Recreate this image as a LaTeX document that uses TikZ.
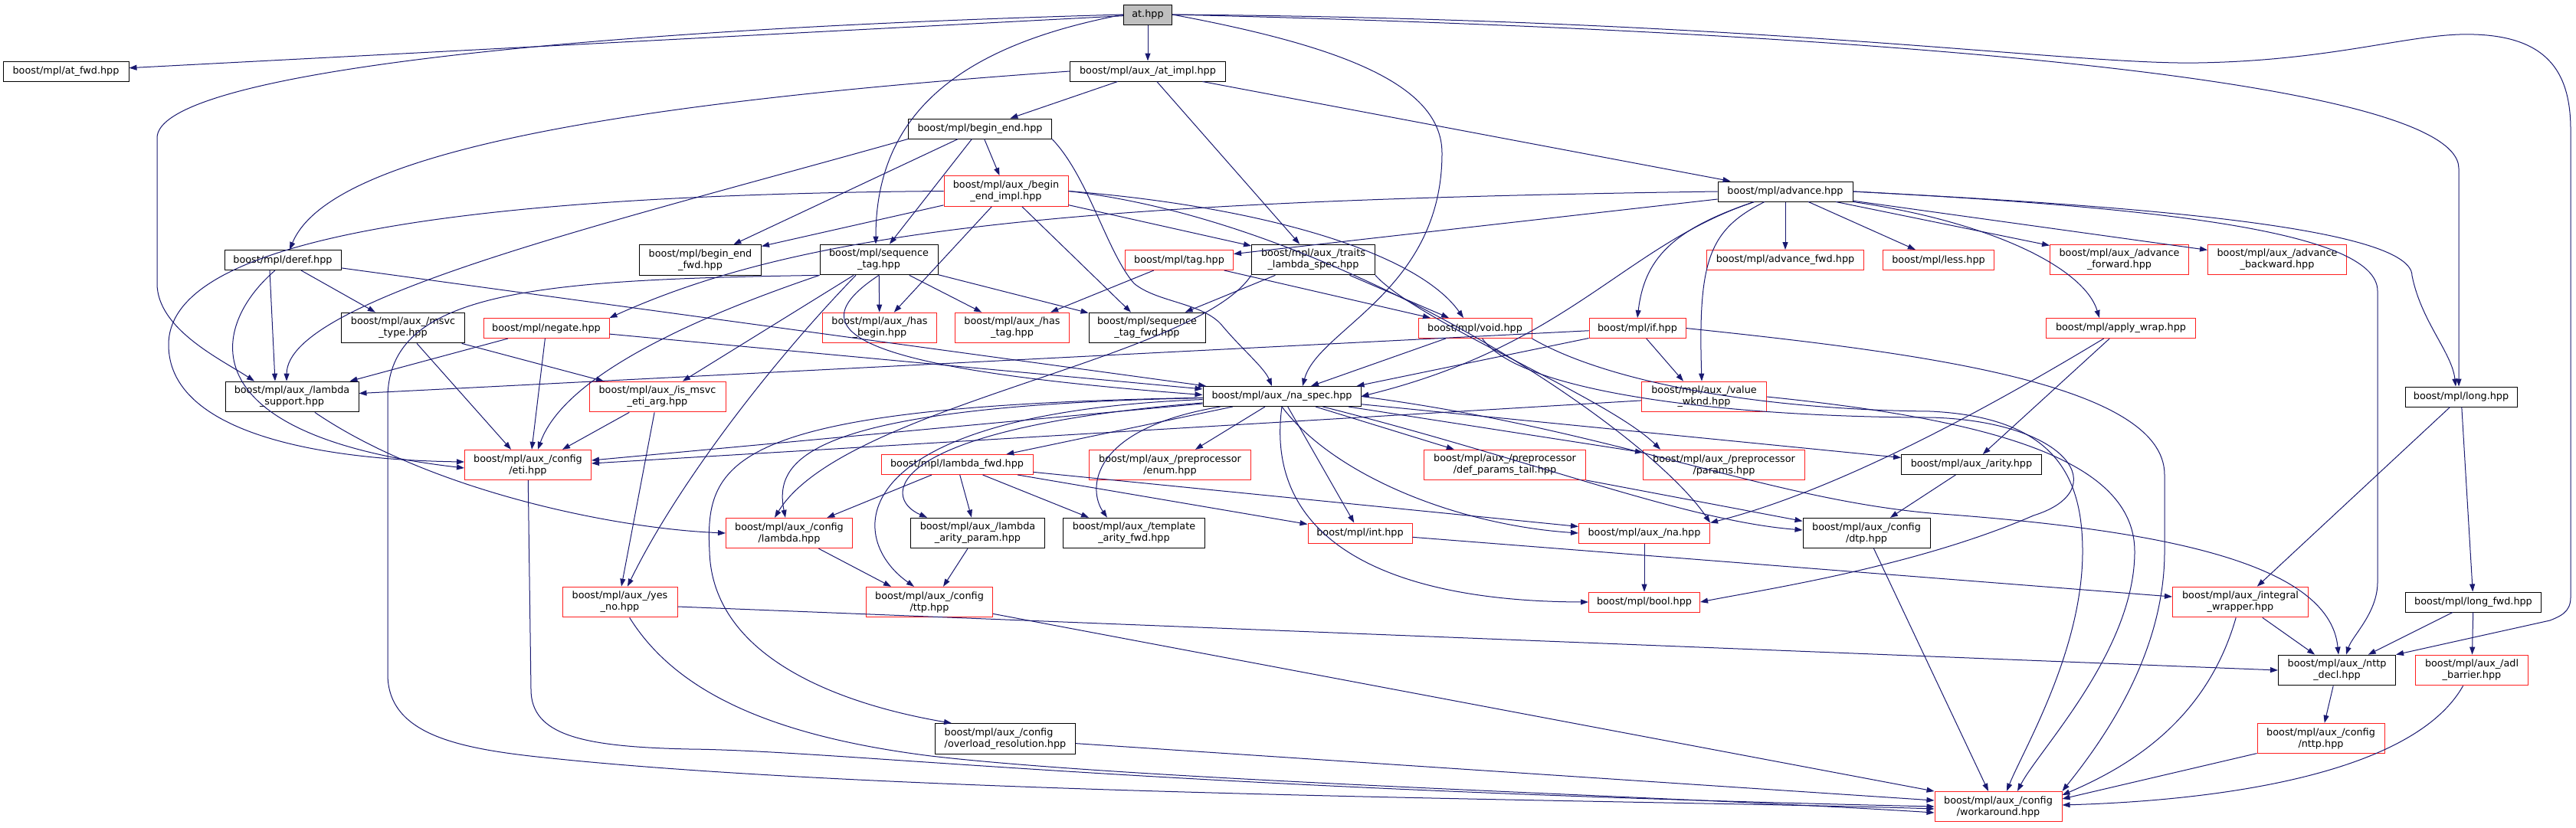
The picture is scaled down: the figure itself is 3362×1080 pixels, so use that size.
\documentclass[tikz,border=0pt]{standalone}
\usepackage{fontspec}
\setmainfont{DejaVu Sans}
\usetikzlibrary{arrows.meta}
\definecolor{edgeblue}{HTML}{191970}
\definecolor{truncred}{HTML}{FF2020}
\definecolor{topgray}{HTML}{BFBFBF}

\begin{document}
\begin{tikzpicture}[x=1pt, y=-1pt,
    hdr/.style={draw=black, line width=1pt, fill=white, align=center,
        font=\fontsize{12.8pt}{15pt}\selectfont, inner xsep=3pt, inner ysep=6pt,
        minimum height=26pt},
    hdrred/.style={hdr, draw=truncred},
    hdrtop/.style={hdr, fill=topgray},
    inc/.style={draw=edgeblue, line width=1pt, -{Triangle[length=10pt,width=7pt]}}]
    \useasboundingbox (0,0) rectangle (3362,1080);

    % rank 0 - 4
    \node [hdrtop, minimum width=63pt] (at) at (1498,19) {at.hpp};
    \node [hdr, minimum width=164pt] (atfwd) at (86,93) {boost/mpl/at\_fwd.hpp};
    \node [hdr, minimum width=203pt] (atimpl) at (1498,93) {boost/mpl/aux\_/at\_impl.hpp};
    \node [hdr, minimum width=187pt] (beginend) at (1279,168) {boost/mpl/begin\_end.hpp};
    \node [hdr, minimum width=176pt] (advance) at (2330,250) {boost/mpl/advance.hpp};
    \node [hdrred, minimum width=162pt] (beimpl) at (1313,249.5) {boost/mpl/aux\_/begin\\\_end\_impl.hpp};
    \node [hdr, minimum width=152pt] (deref) at (369,339.5) {boost/mpl/deref.hpp};
    \node [hdr, minimum width=159pt] (befwd) at (914,339.5) {boost/mpl/begin\_end\\\_fwd.hpp};
    \node [hdr, minimum width=154pt] (seqtag) at (1147,339) {boost/mpl/sequence\\\_tag.hpp};
    \node [hdrred, minimum width=141pt] (tag) at (1539,339.5) {boost/mpl/tag.hpp};
    \node [hdr, minimum width=161pt] (traits) at (1714,339) {boost/mpl/aux\_/traits\\\_lambda\_spec.hpp};
    \node [hdrred, minimum width=205pt] (advfwd) at (2330,339.5) {boost/mpl/advance\_fwd.hpp};
    \node [hdrred, minimum width=145pt] (less) at (2530,339.5) {boost/mpl/less.hpp};
    \node [hdrred, minimum width=181pt] (advforward) at (2766,339) {boost/mpl/aux\_/advance\\\_forward.hpp};
    \node [hdrred, minimum width=181pt] (advbackward) at (2972,339) {boost/mpl/aux\_/advance\\\_backward.hpp};

    % rank 5 - 8
    \node [hdr, minimum width=161pt] (msvctype) at (526,428) {boost/mpl/aux\_/msvc\\\_type.hpp};
    \node [hdrred, minimum width=164pt] (negate) at (713,428.5) {boost/mpl/negate.hpp};
    \node [hdrred, minimum width=149pt] (hasbegin) at (1148,428) {boost/mpl/aux\_/has\\\_begin.hpp};
    \node [hdrred, minimum width=149pt] (hastag) at (1321,428) {boost/mpl/aux\_/has\\\_tag.hpp};
    \node [hdr, minimum width=152pt] (seqtagfwd) at (1497,428) {boost/mpl/sequence\\\_tag\_fwd.hpp};
    \node [hdrred, minimum width=148pt] (voidh) at (1925,428.5) {boost/mpl/void.hpp};
    \node [hdrred, minimum width=126pt] (ifh) at (2137,428.5) {boost/mpl/if.hpp};
    \node [hdrred, minimum width=195pt] (applywrap) at (2768,428.5) {boost/mpl/apply\_wrap.hpp};
    \node [hdr, minimum width=174pt] (lambdasupport) at (381,518) {boost/mpl/aux\_/lambda\\\_support.hpp};
    \node [hdrred, minimum width=178pt] (ismsvc) at (858,518) {boost/mpl/aux\_/is\_msvc\\\_eti\_arg.hpp};
    \node [hdr, minimum width=206pt] (naspec) at (1673,517.5) {boost/mpl/aux\_/na\_spec.hpp};
    \node [hdrred, minimum width=163pt] (valuewknd) at (2224,518) {boost/mpl/aux\_/value\\\_wknd.hpp};
    \node [hdr, minimum width=146pt] (longh) at (3212,518) {boost/mpl/long.hpp};
    \node [hdrred, minimum width=165pt] (eti) at (689,607) {boost/mpl/aux\_/config\\/eti.hpp};
    \node [hdrred, minimum width=198pt] (lambdafwd) at (1249,606.5) {boost/mpl/lambda\_fwd.hpp};
    \node [hdrred, minimum width=211pt] (enum) at (1527,607) {boost/mpl/aux\_/preprocessor\\/enum.hpp};
    \node [hdrred, minimum width=211pt] (defparams) at (1964,607) {boost/mpl/aux\_/preprocessor\\/def\_params\_tail.hpp};
    \node [hdrred, minimum width=211pt] (params) at (2250,607) {boost/mpl/aux\_/preprocessor\\/params.hpp};
    \node [hdr, minimum width=183pt] (arity) at (2573,606.5) {boost/mpl/aux\_/arity.hpp};

    % rank 9 - 12
    \node [hdrred, minimum width=165pt] (cfglambda) at (1030,696) {boost/mpl/aux\_/config\\/lambda.hpp};
    \node [hdr, minimum width=175pt] (arityparam) at (1276,696) {boost/mpl/aux\_/lambda\\\_arity\_param.hpp};
    \node [hdr, minimum width=185pt] (tmplarity) at (1480,696) {boost/mpl/aux\_/template\\\_arity\_fwd.hpp};
    \node [hdrred, minimum width=136pt] (inth) at (1775,696) {boost/mpl/int.hpp};
    \node [hdrred, minimum width=171pt] (na) at (2146,696) {boost/mpl/aux\_/na.hpp};
    \node [hdr, minimum width=166pt] (dtp) at (2436,696) {boost/mpl/aux\_/config\\/dtp.hpp};
    \node [hdrred, minimum width=150pt] (yesno) at (809,786) {boost/mpl/aux\_/yes\\\_no.hpp};
    \node [hdrred, minimum width=165pt] (ttp) at (1213,786) {boost/mpl/aux\_/config\\/ttp.hpp};
    \node [hdrred, minimum width=145pt] (boolh) at (2146,786) {boost/mpl/bool.hpp};
    \node [hdrred, minimum width=177pt] (intwrap) at (2924,786) {boost/mpl/aux\_/integral\\\_wrapper.hpp};
    \node [hdr, minimum width=177pt] (longfwd) at (3228,786) {boost/mpl/long\_fwd.hpp};
    \node [hdr, minimum width=153pt] (nttpdecl) at (3050,875) {boost/mpl/aux\_/nttp\\\_decl.hpp};
    \node [hdrred, minimum width=147pt] (adl) at (3226,875) {boost/mpl/aux\_/adl\\\_barrier.hpp};
    \node [hdr, minimum width=183pt, align=left] (overload) at (1312,964.5) {boost/mpl/aux\_/config\\/overload\_resolution.hpp};
    \node [hdrred, minimum width=166pt] (cfgnttp) at (3029,964) {boost/mpl/aux\_/config\\/nttp.hpp};
    \node [hdrred, minimum width=166pt] (workaround) at (2608,1053) {boost/mpl/aux\_/config\\/workaround.hpp};

    % at.hpp
    \draw [inc] (at) -- (atfwd);
    \draw [inc] (at) -- (atimpl);
    \draw [inc] (at.west) .. controls (700,40) and (205,100) .. (205,180) -- (205,370) .. controls (205,430) and (290,470) .. ([xshift=-49pt]lambdasupport.north);
    \draw [inc] (at.west) .. controls (1250,60) and (1143,150) .. ([xshift=-4pt]seqtag.north);
    \draw [inc] (at.east) .. controls (1750,60) and (1882,110) .. (1882,200) .. controls (1882,380) and (1720,430) .. ([xshift=27pt]naspec.north);
    \draw [inc] (at.east) .. controls (2400,40) and (3209,100) .. (3209,220) -- ([xshift=-3pt]longh.north);
    \draw [inc] (at.east) .. controls (2300,25) and (2700,85) .. (2869,82) .. controls (3050,79) and (3150,42) .. (3229,45) .. controls (3330,48) and (3355,100) .. (3355,170) -- (3355,780) .. controls (3355,800) and (3340,805) .. (3328,810) -- (nttpdecl.north east);

    % aux_/at_impl.hpp
    \draw [inc] (atimpl) -- (beginend);
    \draw [inc] (atimpl.west) .. controls (800,135) and (430,200) .. ([xshift=9pt]deref.north);
    \draw [inc] (atimpl) -- (advance);
    \draw [inc] (atimpl) -- (traits);

    % begin_end.hpp
    \draw [inc] (beginend) -- (befwd);
    \draw [inc] (beginend) -- (beimpl);
    \draw [inc] (beginend) -- ([xshift=14pt]seqtag.north);
    \draw [inc] (beginend.south west) .. controls (800,290) and (375,390) .. ([xshift=-7pt]lambdasupport.north);
    \draw [inc] (beginend.south east) .. controls (1420,230) and (1445,330) .. (1480,370) .. controls (1510,395) and (1570,395) .. (1595,425) .. controls (1620,455) and (1650,480) .. ([xshift=-13pt]naspec.north);

    % deref.hpp
    \draw [inc] (deref) -- (msvctype);
    \draw [inc] (deref) -- (naspec);
    \draw [inc] ([xshift=-17pt]deref.south) -- ([xshift=-22pt]lambdasupport.north);
    \draw [inc] ([xshift=-10pt]deref.south) .. controls (270,430) and (250,570) .. ([yshift=-4pt]eti.west);

    % aux_/begin_end_impl.hpp
    \draw [inc] (beimpl) -- (befwd);
    \draw [inc] (beimpl) -- (seqtagfwd);
    \draw [inc] (beimpl) -- (hasbegin);
    \draw [inc] (beimpl) -- (traits);
    \draw [inc] (beimpl.east) .. controls (1650,270) and (1850,330) .. ([xshift=-15pt]voidh.north);
    \draw [inc] (beimpl.east) .. controls (1750,290) and (2150,560) .. (na.north east);
    \draw [inc] (beimpl.west) .. controls (500,255) and (220,330) .. (220,450) .. controls (220,560) and (400,600) .. ([yshift=4pt]eti.west);

    % sequence_tag.hpp
    \draw [inc] (seqtag) -- (hasbegin);
    \draw [inc] (seqtag) -- (hastag);
    \draw [inc] (seqtag) -- (seqtagfwd);
    \draw [inc] (seqtag.south) .. controls (1040,430) and (1100,480) .. ([yshift=2pt]naspec.west);
    \draw [inc] (seqtag) -- (ismsvc);
    \draw [inc] (seqtag.south west) .. controls (950,400) and (740,480) .. ([xshift=13pt]eti.north);
    \draw [inc] ([xshift=-30pt]seqtag.south) .. controls (1000,480) and (880,640) .. ([xshift=10pt]yesno.north);
    \draw [inc] (seqtag.south west) .. controls (700,365) and (506,380) .. (506,520) -- (506,880) .. controls (506,960) and (600,978) .. (720,990) .. controls (1200,1040) and (2200,1045) .. ([yshift=-3pt]workaround.west);

    % tag.hpp, traits_lambda_spec.hpp
    \draw [inc] (tag) -- (hastag);
    \draw [inc] (tag) -- ([xshift=-58pt]voidh.north);
    \draw [inc] (traits) -- (seqtagfwd);
    \draw [inc] (traits) -- ([xshift=-34pt]voidh.north);
    \draw [inc] (traits.south east) .. controls (1850,420) and (2100,520) .. ([xshift=-83pt]params.north);
    \draw [inc] (traits.south west) .. controls (1560,470) and (1100,530) .. ([xshift=-19pt]cfglambda.north);

    % advance.hpp
    \draw [inc] (advance) -- (advfwd);
    \draw [inc] (advance) -- (less);
    \draw [inc] (advance) -- (advforward);
    \draw [inc] (advance) -- (advbackward);
    \draw [inc] (advance.south east) .. controls (2600,290) and (2720,350) .. ([xshift=-28pt]applywrap.north);
    \draw [inc] (advance.east) .. controls (2700,265) and (3148,290) .. (3148,360) .. controls (3160,420) and (3200,460) .. ([xshift=-7pt]longh.north);
    \draw [inc] (advance.east) .. controls (2800,270) and (3103,300) .. (3103,380) -- (3103,760) .. controls (3103,800) and (3070,830) .. ([xshift=12pt]nttpdecl.north);
    \draw [inc] (advance) -- (tag);
    \draw [inc] (advance.west) .. controls (1400,262) and (1050,300) .. (negate.north east);
    \draw [inc] (advance) .. controls (2180,300) and (2146,340) .. (ifh.north);
    \draw [inc] (advance) .. controls (2230,300) and (2216,340) .. ([xshift=-3pt]valuewknd.north);
    \draw [inc] (advance) .. controls (2120,320) and (2050,450) .. (naspec.east);

    % msvc_type, negate, is_msvc_eti_arg, lambda_support
    \draw [inc] (msvctype) -- ([xshift=-22pt]eti.north);
    \draw [inc] (msvctype) -- ([xshift=-70pt]ismsvc.north);
    \draw [inc] (negate) -- ([xshift=-12pt]lambdasupport.north east);
    \draw [inc] (negate) -- ([xshift=5pt]eti.north);
    \draw [inc] (negate) -- (naspec);
    \draw [inc] (ismsvc) -- ([xshift=45pt]eti.north);
    \draw [inc] (ismsvc) -- ([xshift=2pt]yesno.north);
    \draw [inc] (lambdasupport) .. controls (560,640) and (800,690) .. (cfglambda.west);

    % void.hpp, if.hpp, value_wknd.hpp, apply_wrap.hpp
    \draw [inc] (voidh) -- ([xshift=38pt]naspec.north);
    \draw [inc] (voidh) .. controls (1990,520) and (2300,545) .. (2520,545) .. controls (2700,550) and (2760,640) .. (2654,673) .. controls (2500,740) and (2300,770) .. (boolh.east);
    \draw [inc] (voidh.south east) .. controls (2100,500) and (2300,535) .. (2520,537) .. controls (2680,545) and (2718,620) .. (2718,720) .. controls (2718,850) and (2640,980) .. ([xshift=11pt]workaround.north);
    \draw [inc] (ifh) -- ([xshift=-27pt]valuewknd.north);
    \draw [inc] (ifh) -- ([xshift=-6pt]naspec.north east);
    \draw [inc] (ifh) -- (lambdasupport);
    \draw [inc] (ifh.east) .. controls (2500,460) and (2825,500) .. (2825,620) -- (2825,720) .. controls (2825,850) and (2750,960) .. (workaround.north east);
    \draw [inc] (valuewknd) -- ([yshift=2pt]eti.east);
    \draw [inc] (valuewknd.east) .. controls (2600,548) and (2786,600) .. (2786,720) .. controls (2786,850) and (2660,980) .. ([xshift=25pt]workaround.north);
    \draw [inc] (applywrap) -- (arity);
    \draw [inc] (applywrap) .. controls (2600,530) and (2400,640) .. (na.north east);

    % long.hpp and below
    \draw [inc] (longh) -- (intwrap);
    \draw [inc] (longh) -- (longfwd);
    \draw [inc] (longfwd) -- (nttpdecl);
    \draw [inc] (longfwd) -- (adl);
    \draw [inc] (intwrap) -- (nttpdecl);
    \draw [inc] (intwrap) .. controls (2880,940) and (2780,1000) .. ([yshift=15pt]workaround.east);
    \draw [inc] (nttpdecl) -- (cfgnttp);
    \draw [inc] (cfgnttp) -- ([yshift=10pt]workaround.east);
    \draw [inc] (adl) .. controls (3150,1010) and (2900,1045) .. ([yshift=2pt]workaround.east);

    % aux_/na_spec.hpp
    \draw [inc] (naspec) -- (lambdafwd);
    \draw [inc] (naspec) -- (enum);
    \draw [inc] (naspec) -- (defparams);
    \draw [inc] (naspec) -- (params);
    \draw [inc] (naspec) -- (arity);
    \draw [inc] (naspec) -- (inth);
    \draw [inc] (naspec) -- ([yshift=6pt]eti.east);
    \draw [inc] (naspec.south) .. controls (1740,620) and (1900,685) .. (na.west);
    \draw [inc] (naspec.south) .. controls (1650,700) and (1800,785) .. (boolh.west);
    \draw [inc] (naspec) .. controls (2000,600) and (2200,680) .. ([yshift=4pt]dtp.west);
    \draw [inc] (naspec.east) .. controls (2100,560) and (2300,650) .. (2520,670) .. controls (2800,690) and (3040,730) .. ([xshift=2pt]nttpdecl.north);
    \draw [inc] (naspec) .. controls (1100,540) and (1100,700) .. ([xshift=-20pt]ttp.north);
    \draw [inc] (naspec) .. controls (1050,530) and (1010,600) .. ([xshift=-5pt]cfglambda.north);
    \draw [inc] (naspec) .. controls (950,530) and (920,600) .. (926,720) .. controls (930,860) and (1100,920) .. ([xshift=-70pt]overload.north);
    \draw [inc] (naspec) .. controls (1150,560) and (1150,650) .. ([xshift=-66pt]arityparam.north);
    \draw [inc] (naspec) .. controls (1420,560) and (1420,640) .. ([xshift=-35pt]tmplarity.north);

    % lambda_fwd.hpp and config
    \draw [inc] (lambdafwd) -- (cfglambda);
    \draw [inc] (lambdafwd) -- ([xshift=-8pt]arityparam.north);
    \draw [inc] (lambdafwd) -- ([xshift=-59pt]tmplarity.north);
    \draw [inc] (lambdafwd) -- (inth);
    \draw [inc] (lambdafwd) -- (na);
    \draw [inc] (cfglambda) -- ([xshift=-50pt]ttp.north);
    \draw [inc] (arityparam) -- ([xshift=18pt]ttp.north);
    \draw [inc] (defparams) -- (dtp);
    \draw [inc] (arity) -- (dtp);
    \draw [inc] (dtp) -- ([xshift=-13pt]workaround.north);
    \draw [inc] (na) -- (boolh);
    \draw [inc] (inth) -- (intwrap);
    \draw [inc] ([yshift=-6pt]yesno.east) -- (nttpdecl.west);
    \draw [inc] (yesno) .. controls (880,900) and (1000,960) .. (1215,987) .. controls (1500,1020) and (2200,1040) .. ([yshift=-8pt]workaround.west);
    \draw [inc] (ttp) -- ([yshift=20pt]workaround.west);
    \draw [inc] (overload) -- ([yshift=8pt]workaround.west);
    \draw [inc] (eti) -- (693,900) .. controls (693,960) and (760,975) .. (900,978) .. controls (1100,980) and (1500,1030) .. (workaround.west);
\end{tikzpicture}
\end{document}
